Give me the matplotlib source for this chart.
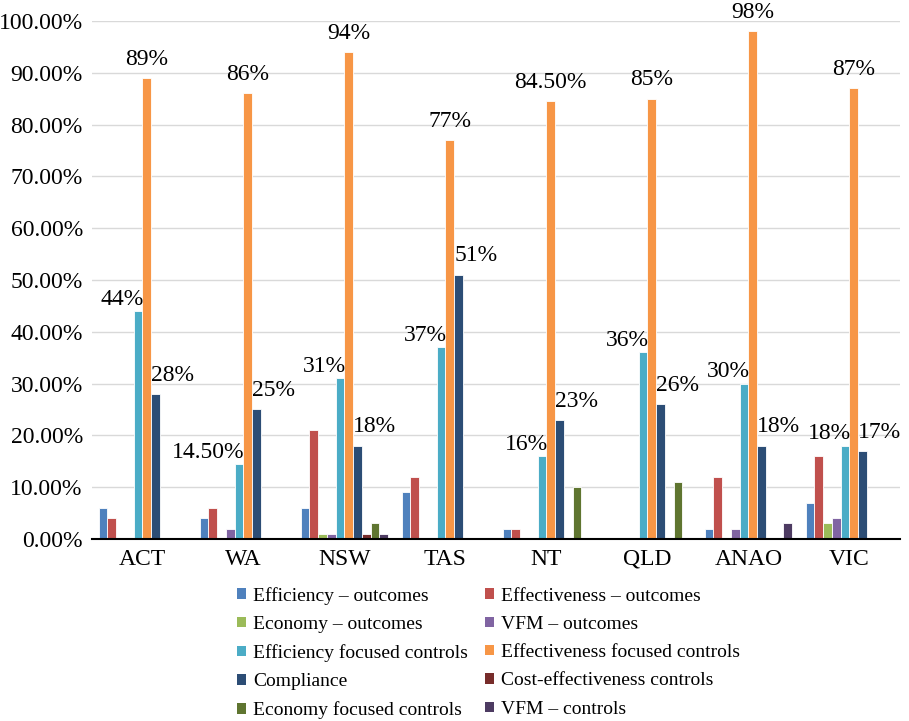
import matplotlib
matplotlib.use("Agg")
import matplotlib.pyplot as plt
from matplotlib.patches import Patch
from matplotlib.ticker import FuncFormatter, MultipleLocator
import numpy as np

plt.rcParams['font.family'] = ['Liberation Serif', 'DejaVu Serif']

categories = ["ACT", "WA", "NSW", "TAS", "NT", "QLD", "ANAO", "VIC"]

series_names = [
    "Efficiency \u2013 outcomes",
    "Effectiveness \u2013 outcomes",
    "Economy \u2013 outcomes",
    "VFM \u2013 outcomes",
    "Efficiency focused controls",
    "Effectiveness focused controls",
    "Compliance",
    "Cost-effectiveness controls",
    "Economy focused controls",
    "VFM \u2013 controls",
]

efficiency_outcomes    = [6, 4, 6, 9, 2, 0, 2, 7]
effectiveness_outcomes = [4, 6, 21, 12, 2, 0, 12, 16]
economy_outcomes       = [0, 0, 1, 0, 0, 0, 0, 3]
vfm_outcomes           = [0, 2, 1, 0, 0, 0, 2, 4]
efficiency_controls    = [44, 14.5, 31, 37, 16, 36, 30, 18]
effectiveness_controls = [89, 86, 94, 77, 84.5, 85, 98, 87]
compliance             = [28, 25, 18, 51, 23, 26, 18, 17]
cost_eff_controls      = [0, 0, 1, 0, 0, 0, 0, 0]
economy_controls       = [0, 0, 3, 0, 10, 11, 0, 0]
vfm_controls           = [0, 0, 1, 0, 0, 0, 3, 0]

series_values = [
    efficiency_outcomes, effectiveness_outcomes, economy_outcomes, vfm_outcomes,
    efficiency_controls, effectiveness_controls, compliance,
    cost_eff_controls, economy_controls, vfm_controls,
]

colors = ["#4F81BD", "#C0504D", "#9BBB59", "#8064A2", "#4BACC6",
          "#F79646", "#2C4D75", "#772C2A", "#5F7530", "#4D3B62"]

fig = plt.figure(figsize=(9.09, 7.21), dpi=100)
ax = fig.add_axes([0.101, 0.2524, 0.889, 0.7186])

n = len(series_values)
width = 0.0865
x = np.arange(len(categories))
bars = []
for i, (vals, col) in enumerate(zip(series_values, colors)):
    offs = (i - (n - 1) / 2) * width
    b = ax.bar(x + offs, vals, width=width, color=col, edgecolor="white",
               linewidth=0.6, zorder=3)
    bars.append(b)


def fmt_label(v):
    return f"{v:.0f}%" if float(v).is_integer() else f"{v:.2f}%"


label_fs = 17
# Efficiency-focused controls: right aligned at bar edge
for rect, v in zip(bars[4], efficiency_controls):
    ax.annotate(fmt_label(v), (rect.get_x() + rect.get_width(), rect.get_height()),
                xytext=(1, 1), textcoords="offset points", ha="right", va="bottom",
                fontsize=label_fs, zorder=5)
# Effectiveness-focused controls: centred above bar
for rect, v in zip(bars[5], effectiveness_controls):
    ax.annotate(fmt_label(v), (rect.get_x() + rect.get_width() / 2, rect.get_height()),
                xytext=(0, 6), textcoords="offset points", ha="center", va="bottom",
                fontsize=label_fs, zorder=5)
# Compliance: left aligned at bar edge
for rect, v in zip(bars[6], compliance):
    ax.annotate(fmt_label(v), (rect.get_x(), rect.get_height()),
                xytext=(0, 6), textcoords="offset points", ha="left", va="bottom",
                fontsize=label_fs, zorder=5)

ax.set_ylim(0, 100)
ax.set_xlim(-0.5, len(categories) - 0.5)
ax.yaxis.set_major_locator(MultipleLocator(10))
ax.yaxis.set_major_formatter(FuncFormatter(lambda v, p: f"{v:.2f}%"))
ax.set_xticks(x)
ax.set_xticklabels(categories)
ax.tick_params(axis="both", length=0, labelsize=17, colors="black")
ax.tick_params(axis="x", pad=7)
ax.tick_params(axis="y", pad=6.5)
ax.grid(axis="y", color="#D9D9D9", linewidth=1.0, zorder=0)
for s in ["top", "right", "left"]:
    ax.spines[s].set_visible(False)
ax.spines["bottom"].set_color("black")
ax.spines["bottom"].set_linewidth(1.5)
ax.spines["bottom"].set_zorder(4)

handles = [Patch(facecolor=c, edgecolor="none") for c in colors]
order = [0, 2, 4, 6, 8, 1, 3, 5, 7, 9]
fig.legend([handles[i] for i in order], [series_names[i] for i in order],
           loc="upper left", bbox_to_anchor=(0.252, 0.197), ncol=2, frameon=False,
           fontsize=14, handlelength=0.45, handleheight=0.45, handletextpad=0.4,
           columnspacing=0.85, labelspacing=0.58, borderaxespad=0)

fig.savefig("out.png", dpi=100)
